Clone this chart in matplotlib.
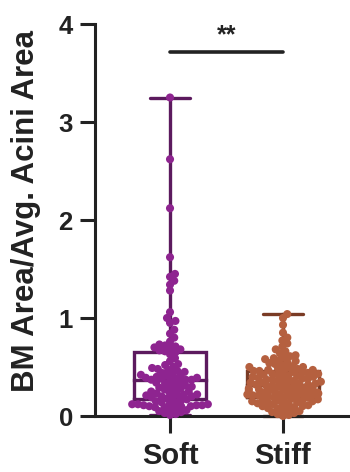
import numpy as np
import matplotlib
matplotlib.use("Agg")
import matplotlib.pyplot as plt

plt.rcParams['font.family'] = ['Liberation Sans', 'DejaVu Sans']
plt.rcParams['font.weight'] = 'bold'

groups = ["Soft", "Stiff"]

soft_values = [
    3.25, 2.62, 2.12, 1.62, 1.45, 1.42, 1.38, 1.34, 1.28, 1.06,
    1.00, 0.97, 0.95, 0.88, 0.84, 0.80, 0.76, 0.73, 0.72, 0.71,
    0.70, 0.69, 0.68, 0.67, 0.66,
    0.65, 0.63, 0.59, 0.56, 0.53, 0.52, 0.50, 0.49, 0.48, 0.47,
    0.46, 0.45, 0.44, 0.43, 0.42, 0.41, 0.41, 0.40, 0.39, 0.39,
    0.38, 0.38, 0.37, 0.37, 0.37,
    0.36, 0.35, 0.34, 0.33, 0.32, 0.31, 0.30, 0.30, 0.29, 0.28,
    0.27, 0.26, 0.25, 0.25, 0.24, 0.23, 0.22, 0.22, 0.21, 0.21,
    0.20, 0.20, 0.19, 0.19, 0.18,
    0.17, 0.16, 0.15, 0.14, 0.14, 0.13, 0.12, 0.12, 0.12, 0.11,
    0.11, 0.11, 0.10, 0.10, 0.10, 0.09, 0.09, 0.08, 0.07, 0.06,
    0.05, 0.04, 0.03, 0.02, 0.01,
]

stiff_values = [
    1.04, 1.00, 0.93, 0.85, 0.80, 0.77, 0.74, 0.71, 0.68, 0.66,
    0.64, 0.62, 0.61, 0.60, 0.59, 0.58, 0.57, 0.56, 0.55, 0.54,
    0.53, 0.52, 0.51, 0.50, 0.50, 0.49, 0.48, 0.48, 0.47, 0.47,
    0.46, 0.46, 0.45, 0.45, 0.44, 0.44, 0.43, 0.43, 0.42, 0.42,
    0.41, 0.41, 0.40, 0.40, 0.39, 0.39, 0.38, 0.38, 0.37, 0.37,
    0.36, 0.36, 0.35, 0.35, 0.34, 0.34, 0.33, 0.33, 0.33, 0.32,
    0.32, 0.31, 0.31, 0.30, 0.30, 0.29, 0.29, 0.28, 0.28, 0.27,
    0.27, 0.26, 0.26, 0.26, 0.25, 0.25, 0.24, 0.24, 0.24, 0.23,
    0.23, 0.23, 0.22, 0.22, 0.22, 0.21, 0.21, 0.21, 0.20, 0.20,
    0.19, 0.19, 0.18, 0.18, 0.17, 0.17, 0.16, 0.16, 0.15, 0.15,
    0.14, 0.14, 0.13, 0.13, 0.12, 0.12, 0.11, 0.10, 0.10, 0.09,
    0.08, 0.08, 0.07, 0.06, 0.05, 0.04, 0.03, 0.02, 0.01, 0.00,
]

point_colors = ["#8E2490", "#B5603F"]
box_colors = ["#5C1A5E", "#7A3B25"]
significance = "**"

W, H, DPI = 350, 472, 100
fig = plt.figure(figsize=(W / DPI, H / DPI), dpi=DPI)
ax = fig.add_axes([95 / W, (H - 416) / H, 255 / W, 392 / H])
ax.set_ylim(0, 4)
ax.set_xlim(-0.664, 1.593)

# pixel scales for swarm layout
px_per_x = 113.0
px_per_y = 98.0
marker_d = 8.0  # point diameter in pixels


def swarm_offsets(values, max_half_px, spacing=0.72):
    """Simple beeswarm: place each point as close to the centre as possible."""
    ys = np.asarray(values) * px_per_y
    order = np.argsort(ys)
    placed = []
    offsets = np.zeros(len(ys))
    d = marker_d * spacing
    for k, i in enumerate(order):
        y = ys[i]
        near = [(px, py) for px, py in placed if abs(py - y) < d]
        cands = [0.0]
        for px, py in near:
            dx = np.sqrt(max(d * d - (py - y) ** 2, 0.0))
            cands += [px + dx, px - dx]
        cands = sorted(cands, key=abs)
        chosen = None
        for c in cands:
            if abs(c) > max_half_px:
                continue
            if all((c - px) ** 2 + (y - py) ** 2 >= d * d - 1e-6 for px, py in near):
                chosen = c
                break
        if chosen is None:
            chosen = (max_half_px if k % 2 else -max_half_px) * 0.9
        offsets[i] = chosen
        placed.append((chosen, y))
    return offsets / px_per_x


box_half = 36 / 113.0
cap_half = 20 / 113.0

for i, vals in enumerate([soft_values, stiff_values]):
    vals = np.asarray(vals)
    q1, med, q3 = np.percentile(vals, [25, 50, 75])
    lo, hi = vals.min(), vals.max()
    c = box_colors[i]
    lw = 2.4
    # box
    ax.plot([i - box_half, i + box_half, i + box_half, i - box_half, i - box_half],
            [q1, q1, q3, q3, q1], color=c, lw=lw, zorder=2, solid_joinstyle='miter')
    ax.plot([i - box_half, i + box_half], [med, med], color=c, lw=lw, zorder=2)
    # whiskers and caps
    ax.plot([i, i], [q3, hi], color=c, lw=lw, zorder=2)
    ax.plot([i, i], [lo, q1], color=c, lw=lw, zorder=2)
    ax.plot([i - cap_half, i + cap_half], [hi, hi], color=c, lw=lw, zorder=2,
            solid_capstyle='round', clip_on=False)
    ax.plot([i - cap_half, i + cap_half], [lo, lo], color=c, lw=lw, zorder=2,
            solid_capstyle='round', clip_on=False)
    # points
    offs = swarm_offsets(vals, max_half_px=38)
    ax.scatter(i + offs, vals, s=34, color=point_colors[i], edgecolors='none',
               zorder=3, clip_on=False)

# significance bracket
bar_y = 3.71
ax.plot([0, 1], [bar_y, bar_y], color="#222222", lw=2.6, solid_capstyle='round',
        clip_on=False)
ax.text(0.5, bar_y + 0.05, significance, ha='center', va='bottom', fontsize=18,
        fontweight='bold', color="#222222")

# axes styling
for s in ['top', 'right']:
    ax.spines[s].set_visible(False)
for s in ['left', 'bottom']:
    ax.spines[s].set_linewidth(2.2)
    ax.spines[s].set_color("#222222")
ax.set_yticks([0, 1, 2, 3, 4])
ax.set_xticks([0, 1])
ax.set_xticklabels(groups)
ax.tick_params(axis='both', width=2.2, color="#222222", labelcolor="#222222")
ax.tick_params(axis='y', length=11, labelsize=18.5, pad=5)
ax.tick_params(axis='x', length=12.5, labelsize=21, pad=6)
for lab in ax.get_xticklabels() + ax.get_yticklabels():
    lab.set_fontweight('bold')
ax.set_ylabel("BM Area/Avg. Acini Area", fontsize=22.5, fontweight='bold',
              color="#222222")
ax.yaxis.set_label_coords(-0.21, 0.523)

fig.savefig("out.png", dpi=DPI)
